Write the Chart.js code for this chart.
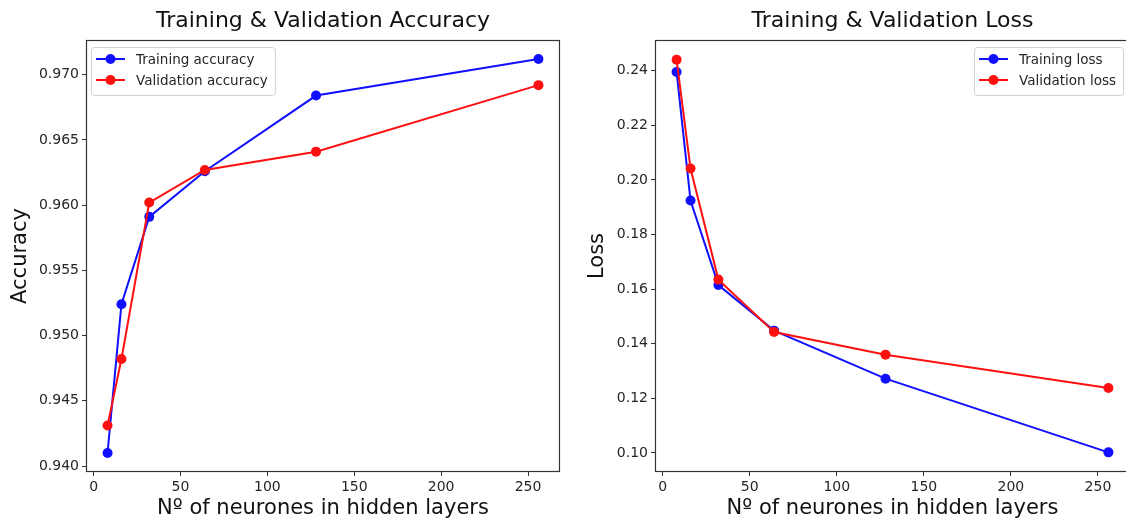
<!DOCTYPE html>
<html>
<head>
<meta charset="utf-8">
<script src="https://cdn.jsdelivr.net/npm/chart.js@4"></script>
<style>
  body { margin: 0; background: #fff; overflow: hidden; }
  canvas { position: absolute; top: 0; }
  #acc-chart { left: 0; }
  #loss-chart { left: 570px; }
</style>
</head>
<body>
<canvas id="acc-chart" width="565" height="522"></canvas>
<canvas id="loss-chart" width="560" height="522"></canvas>
<script>
const neurons = [8, 16, 32, 64, 128, 256];
const trainAcc = [0.9410, 0.9524, 0.9591, 0.9626, 0.9684, 0.9712];
const valAcc = [0.9431, 0.9482, 0.9602, 0.9627, 0.9641, 0.9692];
const trainLoss = [0.2396, 0.1925, 0.1615, 0.1448, 0.1272, 0.1002];
const valLoss = [0.2441, 0.2042, 0.1635, 0.1443, 0.1360, 0.1238];
const xTicks = [0, 50, 100, 150, 200, 250];
const accTicks = [0.940, 0.945, 0.950, 0.955, 0.960, 0.965, 0.970];
const lossTicks = [0.10, 0.12, 0.14, 0.16, 0.18, 0.20, 0.22, 0.24];

const font = "'DejaVu Sans', sans-serif";
const ink = "#262626";

// frame + title + matplotlib style legend inside the axes
const mplPlugin = {
  id: "mpl",
  afterDraw(chart, args, opts) {
    const ctx = chart.ctx;
    const a = chart.chartArea;
    ctx.save();
    ctx.strokeStyle = "#333";
    ctx.lineWidth = 1.2;
    ctx.strokeRect(a.left + 0.5, a.top + 0.5, a.right - a.left - 1, a.bottom - a.top - 1);

    ctx.fillStyle = "#111";
    ctx.font = "22px " + font;
    ctx.textAlign = "center";
    ctx.textBaseline = "middle";
    ctx.fillText(opts.title, (a.left + a.right) / 2, 21);

    const sets = chart.data.datasets;
    ctx.font = "13.5px " + font;
    let tw = 0;
    sets.forEach(d => { tw = Math.max(tw, ctx.measureText(d.label).width); });
    const w = 5 + 29 + 11 + tw + 7;
    const h = 48;
    const x0 = opts.side === "left" ? a.left + 5 : Math.min(a.right - 5, opts.legendRight) - w;
    const y0 = a.top + 7;
    ctx.fillStyle = "rgba(255,255,255,0.85)";
    ctx.strokeStyle = "#d0d0d0";
    ctx.lineWidth = 1;
    ctx.beginPath();
    ctx.roundRect(x0 + 0.5, y0 + 0.5, w, h, 3);
    ctx.fill();
    ctx.stroke();
    sets.forEach((d, i) => {
      const cy = y0 + 12 + i * 21;
      ctx.strokeStyle = d.borderColor;
      ctx.lineWidth = 2;
      ctx.beginPath();
      ctx.moveTo(x0 + 5, cy);
      ctx.lineTo(x0 + 34, cy);
      ctx.stroke();
      ctx.fillStyle = d.borderColor;
      ctx.beginPath();
      ctx.arc(x0 + 19.5, cy, 5, 0, Math.PI * 2);
      ctx.fill();
      ctx.fillStyle = ink;
      ctx.textAlign = "left";
      ctx.fillText(d.label, x0 + 45, cy + 1);
    });
    ctx.restore();
  }
};

function makeChart(id, cfg) {
  const series = (ys) => ys.map((y, i) => ({ x: neurons[i], y: y }));
  const ds = (label, ys, color, order) => ({
    label: label,
    data: series(ys),
    borderColor: color,
    backgroundColor: color,
    borderWidth: 2,
    pointRadius: 5,
    pointHoverRadius: 5,
    pointBorderWidth: 0,
    tension: 0,
    order: order,
    clip: 10
  });
  return new Chart(document.getElementById(id), {
    type: "line",
    data: {
      datasets: [
        ds(cfg.labels[0], cfg.train, "#1010ff", 1),
        ds(cfg.labels[1], cfg.val, "#ff1010", 0)
      ]
    },
    options: {
      responsive: false,
      animation: false,
      layout: {
        autoPadding: false,
        padding: { left: 0, right: cfg.padRight, top: 40, bottom: 0 }
      },
      plugins: {
        legend: { display: false },
        tooltip: { enabled: false },
        mpl: { title: cfg.title, side: cfg.side, legendRight: 553 }
      },
      scales: {
        x: {
          type: "linear",
          min: -4.4,
          max: 268.4,
          afterBuildTicks: s => { s.ticks = xTicks.map(v => ({ value: v })); },
          afterFit: s => { s.height = 50; s.paddingLeft = 0; s.paddingRight = 0; },
          grid: { drawOnChartArea: false, tickLength: 4, color: "#333" },
          border: { display: false },
          ticks: { color: ink, font: { family: font, size: 14 }, padding: 3, maxRotation: 0 },
          title: {
            display: true,
            text: "Nº of neurones in hidden layers",
            color: "#111",
            font: { family: font, size: 21 },
            padding: { top: 0, bottom: 1 }
          }
        },
        y: {
          min: cfg.yMin,
          max: cfg.yMax,
          afterBuildTicks: s => { s.ticks = cfg.yTicks.map(v => ({ value: v })); },
          afterFit: s => { s.width = cfg.yWidth; },
          grid: { drawOnChartArea: false, tickLength: 4, color: "#333" },
          border: { display: false },
          ticks: {
            color: ink,
            font: { family: font, size: 14 },
            padding: 3,
            callback: v => v.toFixed(cfg.digits)
          },
          title: {
            display: true,
            text: cfg.yTitle,
            color: "#111",
            font: { family: font, size: 21 },
            padding: { top: cfg.yTitlePad, bottom: 0 }
          }
        }
      }
    },
    plugins: [mplPlugin]
  });
}

makeChart("acc-chart", {
  title: "Training & Validation Accuracy",
  labels: ["Training accuracy", "Validation accuracy"],
  train: trainAcc,
  val: valAcc,
  yMin: 0.93954,
  yMax: 0.97266,
  yTicks: accTicks,
  digits: 3,
  yTitle: "Accuracy",
  yTitlePad: 8,
  yWidth: 86,
  padRight: 5,
  side: "left"
});

makeChart("loss-chart", {
  title: "Training & Validation Loss",
  labels: ["Training loss", "Validation loss"],
  train: trainLoss,
  val: valLoss,
  yMin: 0.0930,
  yMax: 0.2513,
  yTicks: lossTicks,
  digits: 2,
  yTitle: "Loss",
  yTitlePad: 15,
  yWidth: 85,
  padRight: 0,
  side: "right"
});
</script>
</body>
</html>
